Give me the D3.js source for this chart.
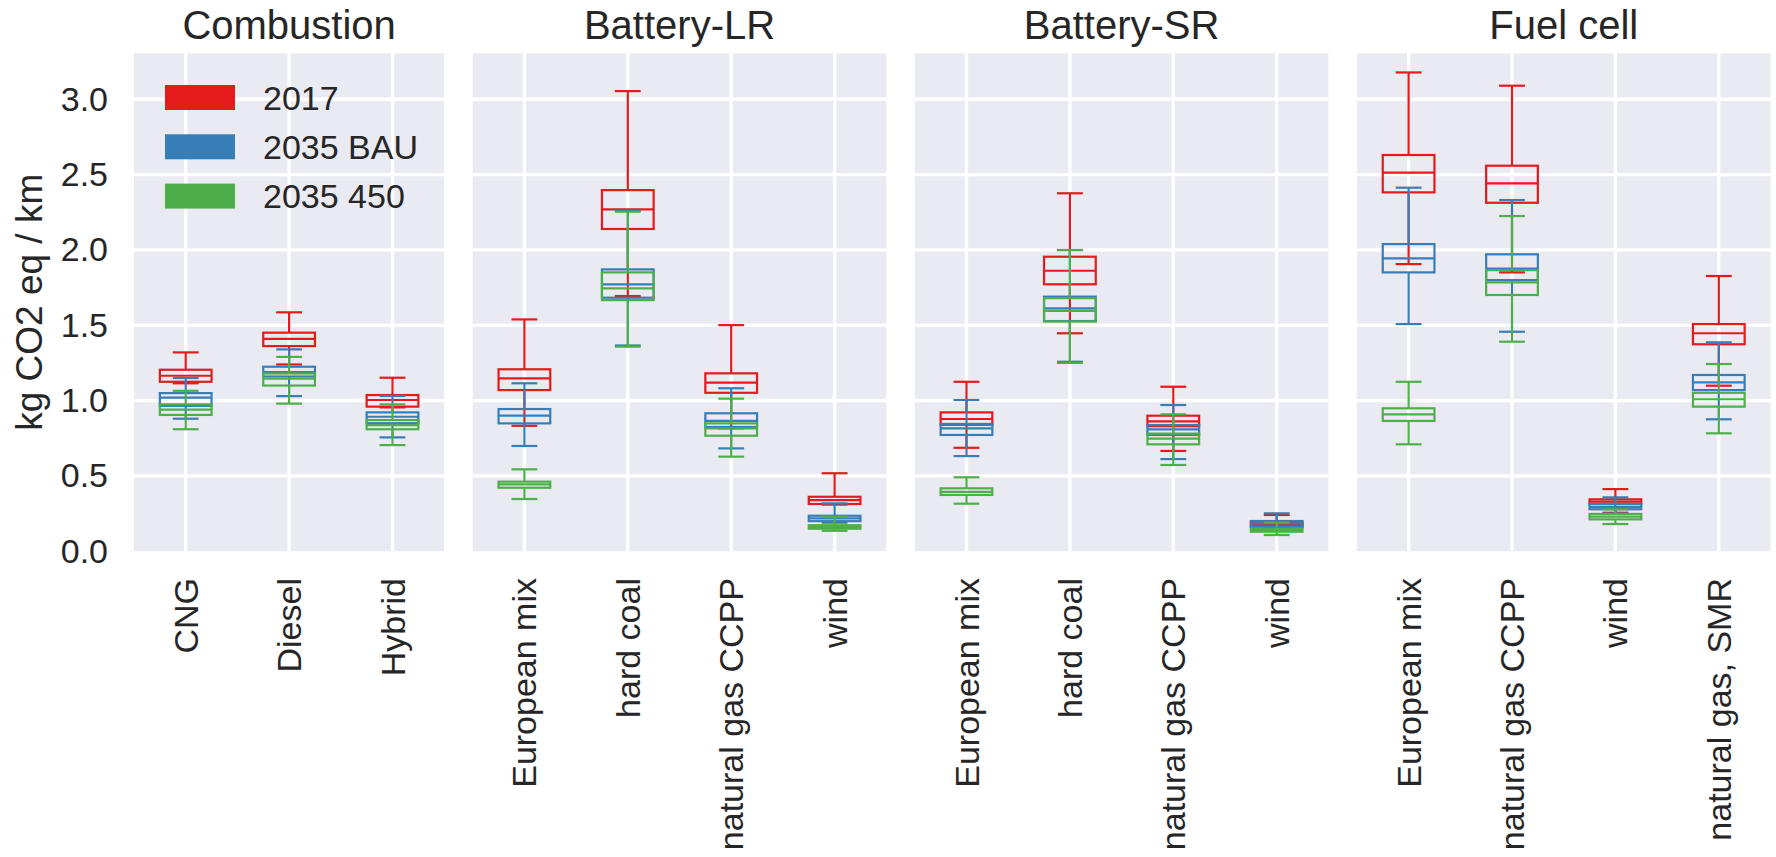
<!DOCTYPE html>
<html>
<head>
<meta charset="utf-8">
<script src="https://cdn.jsdelivr.net/npm/d3@7"></script>
<style>
  body { margin: 0; background: #fff; }
  text { font-family: "Liberation Sans", Arial, sans-serif; }
</style>
</head>
<body>
<svg id="chart"></svg>
<script>
// Chart data
const panelTitles = ["Combustion", "Battery-LR", "Battery-SR", "Fuel cell"];
const panelCategories = [
  ["CNG", "Diesel", "Hybrid"],
  ["European mix", "hard coal", "natural gas CCPP", "wind"],
  ["European mix", "hard coal", "natural gas CCPP", "wind"],
  ["European mix", "natural gas CCPP", "wind", "natural gas, SMR"]
];
const scenarios = ["2017", "2035 BAU", "2035 450"];
const scenarioColors = ["#e41a1c", "#377eb8", "#4daf4a"];
const yTicks = [0, 0.5, 1, 1.5, 2, 2.5, 3];

// box stats, panel by panel, category by category: [low, q1, median, q3, high]
const stats2017 = [
  [1.115, 1.125, 1.165, 1.205, 1.32],
  [1.24, 1.362, 1.41, 1.451, 1.586],
  [0.955, 0.96, 1.004, 1.037, 1.152],
  [0.833, 1.07, 1.148, 1.208, 1.539],
  [1.694, 2.139, 2.269, 2.397, 3.054],
  [0.816, 1.052, 1.119, 1.181, 1.501],
  [0.31, 0.314, 0.34, 0.362, 0.518],
  [0.687, 0.84, 0.878, 0.922, 1.125],
  [1.447, 1.772, 1.862, 1.955, 2.376],
  [0.666, 0.83, 0.862, 0.9, 1.092],
  [0.15, 0.16, 0.175, 0.19, 0.241],
  [1.906, 2.382, 2.513, 2.63, 3.178],
  [1.851, 2.313, 2.442, 2.559, 3.09],
  [0.256, 0.315, 0.33, 0.345, 0.413],
  [1.099, 1.374, 1.447, 1.508, 1.827]
];
const statsBAU = [
  [0.88, 0.965, 1.02, 1.05, 1.15],
  [1.03, 1.16, 1.19, 1.225, 1.34],
  [0.756, 0.85, 0.893, 0.922, 1.031],
  [0.699, 0.849, 0.9, 0.944, 1.115],
  [1.366, 1.683, 1.772, 1.871, 2.26],
  [0.683, 0.825, 0.865, 0.916, 1.082],
  [0.19, 0.2, 0.218, 0.236, 0.318],
  [0.632, 0.772, 0.816, 0.845, 1.004],
  [1.258, 1.528, 1.612, 1.69, 1.999],
  [0.612, 0.772, 0.809, 0.838, 0.971],
  [0.14, 0.165, 0.185, 0.201, 0.252],
  [1.508, 1.851, 1.944, 2.039, 2.413],
  [1.457, 1.8, 1.876, 1.971, 2.331],
  [0.25, 0.279, 0.295, 0.314, 0.358],
  [0.876, 1.07, 1.121, 1.17, 1.387]
];
const stats450 = [
  [0.81, 0.905, 0.94, 0.975, 1.065],
  [0.98, 1.1, 1.145, 1.18, 1.29],
  [0.705, 0.81, 0.838, 0.871, 0.975],
  [0.347, 0.422, 0.444, 0.462, 0.544],
  [1.358, 1.667, 1.745, 1.851, 2.254],
  [0.628, 0.767, 0.816, 0.849, 1.013],
  [0.136, 0.15, 0.162, 0.173, 0.23],
  [0.316, 0.374, 0.395, 0.418, 0.491],
  [1.25, 1.525, 1.596, 1.68, 2.0],
  [0.573, 0.71, 0.748, 0.781, 0.909],
  [0.108, 0.13, 0.142, 0.152, 0.19],
  [0.71, 0.865, 0.909, 0.949, 1.125],
  [1.391, 1.701, 1.785, 1.866, 2.225],
  [0.181, 0.212, 0.23, 0.248, 0.279],
  [0.783, 0.96, 1.009, 1.052, 1.243]
];
const allStats = [stats2017, statsBAU, stats450];

// Layout
const width = 1776;
const height = 857;
const plotTop = 53.3;
const plotBottom = 551.3;
const firstLeft = 134;
const panelGap = 28.5;
const catStep = 103.4;
const textColor = "#262626";

const svg = d3.select("#chart")
  .attr("width", width)
  .attr("height", height)
  .style("background", "#fff");

const y = d3.scaleLinear().domain([0, 3.305]).range([plotBottom, plotTop]);

let left = firstLeft;
let offset = 0; // running index into the stats arrays

panelCategories.forEach((cats, p) => {
  const w = cats.length * catStep;
  const x = d3.scaleBand().domain(cats).range([left, left + w]).padding(0);
  const cx = c => x(c) + x.bandwidth() / 2;
  const boxW = x.bandwidth() * 0.5;
  const capW = boxW * 0.5;

  const g = svg.append("g").attr("class", "panel");

  // background
  g.append("rect")
    .attr("x", left).attr("y", plotTop)
    .attr("width", w).attr("height", plotBottom - plotTop)
    .attr("fill", "#eaeaf2");

  // grid
  g.selectAll(".hgrid")
    .data(yTicks.filter(t => t > 0))
    .join("line")
    .attr("class", "hgrid")
    .attr("x1", left).attr("x2", left + w)
    .attr("y1", d => y(d)).attr("y2", d => y(d))
    .attr("stroke", "#fff").attr("stroke-width", 3.3);

  g.selectAll(".vgrid")
    .data(cats)
    .join("line")
    .attr("class", "vgrid")
    .attr("x1", d => cx(d)).attr("x2", d => cx(d))
    .attr("y1", plotTop).attr("y2", plotBottom)
    .attr("stroke", "#fff").attr("stroke-width", 3.3);

  // title
  g.append("text")
    .attr("x", left + w / 2).attr("y", 38.5)
    .attr("text-anchor", "middle")
    .attr("font-size", 40)
    .attr("fill", textColor)
    .text(panelTitles[p]);

  // rotated category labels
  g.selectAll(".xlabel")
    .data(cats)
    .join("text")
    .attr("class", "xlabel")
    .attr("x", d => cx(d)).attr("y", 578)
    .attr("transform", d => `rotate(-90, ${cx(d)}, 578)`)
    .attr("text-anchor", "end")
    .attr("dominant-baseline", "central")
    .attr("font-size", 34)
    .attr("fill", textColor)
    .text(d => d);

  // boxes, one scenario after the other, drawn on the same spot
  allStats.forEach((stats, s) => {
    const rows = stats.slice(offset, offset + cats.length)
      .map((v, i) => ({ cat: cats[i], lo: v[0], q1: v[1], med: v[2], q3: v[3], hi: v[4] }));
    const color = scenarioColors[s];
    const sg = g.append("g")
      .attr("stroke", color)
      .attr("stroke-width", 2.2)
      .attr("fill", "none");

    sg.selectAll(".box")
      .data(rows)
      .join("rect")
      .attr("class", "box")
      .attr("x", d => cx(d.cat) - boxW / 2)
      .attr("y", d => y(d.q3))
      .attr("width", boxW)
      .attr("height", d => y(d.q1) - y(d.q3));

    sg.selectAll(".whisk-hi")
      .data(rows)
      .join("line")
      .attr("class", "whisk-hi")
      .attr("x1", d => cx(d.cat)).attr("x2", d => cx(d.cat))
      .attr("y1", d => y(d.q3)).attr("y2", d => y(d.hi));

    sg.selectAll(".whisk-lo")
      .data(rows)
      .join("line")
      .attr("class", "whisk-lo")
      .attr("x1", d => cx(d.cat)).attr("x2", d => cx(d.cat))
      .attr("y1", d => y(d.q1)).attr("y2", d => y(d.lo));

    sg.selectAll(".cap-hi")
      .data(rows)
      .join("line")
      .attr("class", "cap-hi")
      .attr("x1", d => cx(d.cat) - capW / 2).attr("x2", d => cx(d.cat) + capW / 2)
      .attr("y1", d => y(d.hi)).attr("y2", d => y(d.hi));

    sg.selectAll(".cap-lo")
      .data(rows)
      .join("line")
      .attr("class", "cap-lo")
      .attr("x1", d => cx(d.cat) - capW / 2).attr("x2", d => cx(d.cat) + capW / 2)
      .attr("y1", d => y(d.lo)).attr("y2", d => y(d.lo));

    sg.selectAll(".median")
      .data(rows)
      .join("line")
      .attr("class", "median")
      .attr("x1", d => cx(d.cat) - boxW / 2).attr("x2", d => cx(d.cat) + boxW / 2)
      .attr("y1", d => y(d.med)).attr("y2", d => y(d.med));
  });

  // y axis + legend on the first panel only
  if (p === 0) {
    const yAxis = d3.axisLeft(y)
      .tickValues(yTicks)
      .tickFormat(d3.format(".1f"))
      .tickSize(0)
      .tickPadding(26);
    const ag = svg.append("g")
      .attr("transform", `translate(${left},0)`)
      .call(yAxis);
    ag.select(".domain").remove();
    ag.selectAll("text")
      .attr("font-size", 34)
      .attr("font-family", "Liberation Sans, Arial, sans-serif")
      .attr("fill", textColor);

    svg.append("text")
      .attr("transform", `translate(29, ${(plotTop + plotBottom) / 2}) rotate(-90)`)
      .attr("text-anchor", "middle")
      .attr("dominant-baseline", "central")
      .attr("font-size", 37)
      .attr("fill", textColor)
      .text("kg CO2 eq / km");

    const legend = svg.append("g").attr("class", "legend");
    scenarios.forEach((name, i) => {
      legend.append("rect")
        .attr("x", 165).attr("y", 85 + i * 49.3)
        .attr("width", 70).attr("height", 25)
        .attr("fill", scenarioColors[i]);
      legend.append("text")
        .attr("x", 263).attr("y", 97.5 + i * 49.3)
        .attr("dominant-baseline", "central")
        .attr("font-size", 34)
        .attr("fill", textColor)
        .text(name);
    });
  }

  offset += cats.length;
  left += w + panelGap;
});
</script>
</body>
</html>
